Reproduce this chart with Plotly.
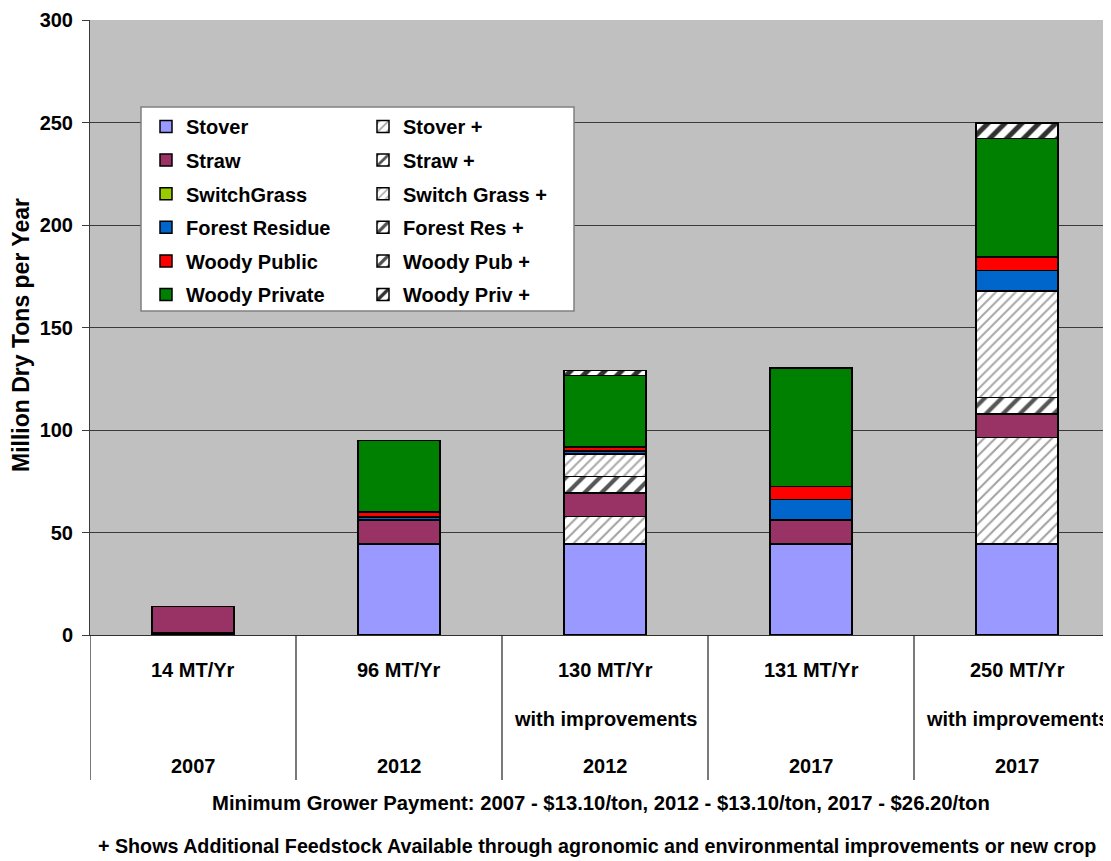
import plotly.graph_objects as go

# ---- data ----
rate_labels = ["14 MT/Yr", "96 MT/Yr", "130 MT/Yr", "131 MT/Yr", "250 MT/Yr"]
note_labels = ["", "", "with improvements", "", "with improvements"]
year_labels = ["2007", "2012", "2012", "2017", "2017"]

stover = [1, 44.5, 44.5, 44.5, 44.5]
stover_plus = [None, None, 13.2, None, 51.8]
straw = [13, 11.5, 11.5, 11.5, 11.5]
straw_plus = [None, None, 8, None, 8]
switchgrass = [None, None, None, None, None]
switchgrass_plus = [None, None, 11, None, 52]
forest_res = [None, 1.5, 1.5, 10, 10]
forest_res_plus = [None, None, None, None, None]
woody_pub = [None, 2.5, 2, 6.5, 6.5]
woody_pub_plus = [None, None, None, None, None]
woody_priv = [None, 35, 35, 57.8, 57.8]
woody_priv_plus = [None, None, 2.3, None, 7.6]

footnote1 = "Minimum Grower Payment: 2007 - $13.10/ton, 2012 - $13.10/ton, 2017 - $26.20/ton"
footnote2 = "+ Shows Additional Feedstock Available through agronomic and environmental improvements or new crop"

FONT = "Arial, Liberation Sans, sans-serif"

solid_series = [
    ("Stover", stover, "#9999FF"),
    ("Straw", straw, "#993366"),
    ("SwitchGrass", switchgrass, "#99CC00"),
    ("Forest Residue", forest_res, "#0066CC"),
    ("Woody Public", woody_pub, "#FF0000"),
    ("Woody Private", woody_priv, "#008000"),
]
plus_series = [
    ("Stover +", stover_plus, "#a0a0a0", 8, 0.25),
    ("Straw +", straw_plus, "#555555", 12, 0.35),
    ("Switch Grass +", switchgrass_plus, "#a8a8a8", 7, 0.28),
    ("Forest Res +", forest_res_plus, "#505050", 10, 0.4),
    ("Woody Pub +", woody_pub_plus, "#505050", 10, 0.4),
    ("Woody Priv +", woody_priv_plus, "#303030", 12, 0.42),
]

fig = go.Figure()
for i in range(6):
    name, vals, col = solid_series[i]
    fig.add_trace(go.Bar(
        x=rate_labels, y=vals, name=name, width=0.4,
        marker=dict(color=col, line=dict(color="black", width=1.5)),
        legend="legend", legendgroup="s%d" % i,
    ))
    pname, pvals, fg, sz, sol = plus_series[i]
    fig.add_trace(go.Bar(
        x=rate_labels, y=pvals, name=pname, width=0.4,
        marker=dict(color="white", line=dict(color="black", width=1.5),
                    pattern=dict(shape="/", fgcolor=fg, bgcolor="white",
                                 size=sz, solidity=sol, fillmode="replace")),
        legend="legend2", legendgroup="p%d" % i,
    ))

# The page body has an 8px margin; work in page pixel coordinates.
OFF = 8
FIG_W, FIG_H = 1111 - OFF, 861 - OFF
L, T, W, H = 90 - OFF, 20 - OFF, 1021, 615

def px_y(py):
    return (T + H - (py - OFF)) / H

def px_x(px):
    return ((px - OFF) - L) / W

shapes = []
# white legend box
shapes.append(dict(type="rect", xref="paper", yref="paper",
                   x0=px_x(141), x1=px_x(574), y0=px_y(311), y1=px_y(107),
                   fillcolor="white", line=dict(color="#808080", width=1.5),
                   layer="above"))
# category dividers
for xv in [-0.5, 0.5, 1.5, 2.5, 3.5, 4.5]:
    shapes.append(dict(type="line", xref="x", yref="paper",
                       x0=xv, x1=xv, y0=0, y1=px_y(780),
                       line=dict(color="#202020", width=1.2)))

lab_font = dict(family=FONT, size=20, color="black", weight="bold")
annotations = []
for i in range(5):
    annotations.append(dict(x=i, y=px_y(670), xref="x", yref="paper",
                            text=rate_labels[i], showarrow=False,
                            xanchor="center", yanchor="middle", font=lab_font))
    if note_labels[i]:
        annotations.append(dict(x=i, y=px_y(719), xref="x", yref="paper",
                                text=note_labels[i], showarrow=False,
                                xanchor="center", yanchor="middle", font=lab_font))
    annotations.append(dict(x=i, y=px_y(766), xref="x", yref="paper",
                            text=year_labels[i], showarrow=False,
                            xanchor="center", yanchor="middle", font=lab_font))

annotations.append(dict(x=px_x(601), y=px_y(803), xref="paper", yref="paper",
                        text=footnote1, showarrow=False,
                        xanchor="center", yanchor="middle",
                        font=dict(family=FONT, size=20.3, color="black", weight="bold")))
annotations.append(dict(x=px_x(597), y=px_y(846), xref="paper", yref="paper",
                        text=footnote2, showarrow=False,
                        xanchor="center", yanchor="middle",
                        font=dict(family=FONT, size=19.7, color="black", weight="bold")))
annotations.append(dict(x=px_x(21), y=px_y(335), xref="paper", yref="paper",
                        text="Million Dry Tons per Year", showarrow=False,
                        textangle=-90, xanchor="center", yanchor="middle",
                        font=dict(family=FONT, size=23, color="black", weight="bold")))

legend_font = dict(family=FONT, size=20, color="black", weight="bold")

fig.update_layout(
    width=FIG_W, height=FIG_H,
    margin=dict(l=L, r=FIG_W - L - W, t=T, b=FIG_H - T - H, pad=0),
    paper_bgcolor="white",
    plot_bgcolor="#C0C0C0",
    barmode="stack",
    showlegend=True,
    legend=dict(x=px_x(146), y=px_y(107), xanchor="left", yanchor="top",
                orientation="v", traceorder="grouped", tracegroupgap=4.6,
                bgcolor="rgba(0,0,0,0)", borderwidth=0, font=legend_font),
    legend2=dict(x=px_x(363), y=px_y(107), xanchor="left", yanchor="top",
                 orientation="v", traceorder="grouped", tracegroupgap=4.6,
                 bgcolor="rgba(0,0,0,0)", borderwidth=0, font=legend_font),
    shapes=shapes,
    annotations=annotations,
    xaxis=dict(type="category", range=[-0.5, -0.5 + W / 206.0],
               showticklabels=False, ticks="", showgrid=False,
               showline=True, linecolor="#303030", linewidth=1,
               fixedrange=True),
    yaxis=dict(range=[0, 300], dtick=50, tick0=0,
               showgrid=True, gridcolor="#3a3a3a", gridwidth=1,
               showline=True, linecolor="#3a3a3a", linewidth=1,
               ticks="outside", ticklen=7, tickcolor="#3a3a3a", tickwidth=1,
               ticklabelstandoff=5,
               tickfont=dict(family=FONT, size=20, color="black", weight="bold"),
               zeroline=False, fixedrange=True),
)

fig.write_html("out.html")
